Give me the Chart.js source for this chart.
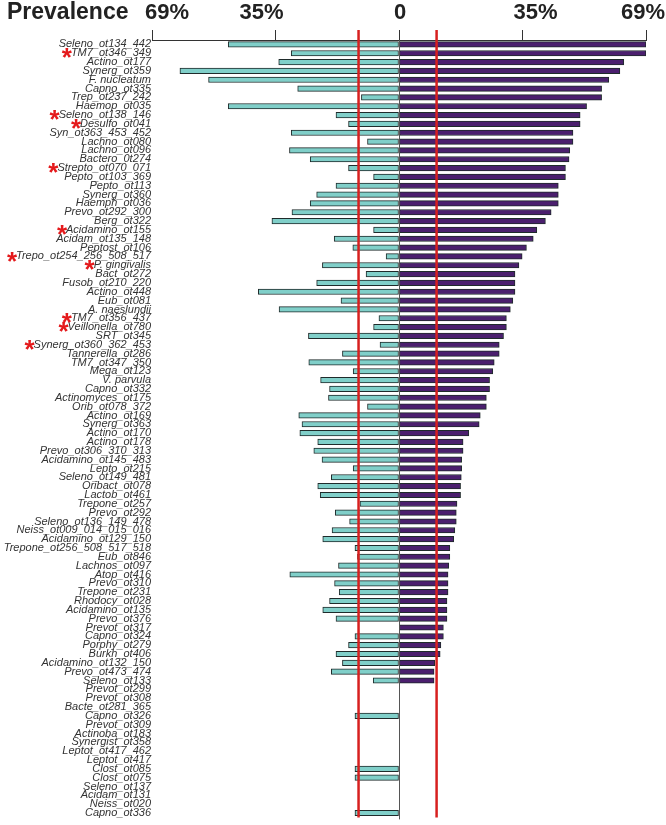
<!DOCTYPE html>
<html>
<head>
<meta charset="utf-8">
<script src="https://cdn.jsdelivr.net/npm/chart.js@4.4.1/dist/chart.umd.min.js"></script>
<style>
  html, body { margin: 0; padding: 0; background: #fff; }
  #wrap { position: relative; width: 666px; height: 825px; }
</style>
</head>
<body>
<div id="wrap"><canvas id="prevChart"></canvas></div>
<script>
/* prevalence mirror bars: teal to the left, purple to the right */
const categories = [
  "Seleno_ot134_442", "TM7_ot346_349", "Actino_ot177", "Synerg_ot359", "F. nucleatum",
  "Capno_ot335", "Trep_ot237_242", "Haemop_ot035", "Seleno_ot138_146", "Desulfo_ot041",
  "Syn_ot363_453_452", "Lachno_ot080", "Lachno_ot096", "Bactero_0t274", "Strepto_ot070_071",
  "Pepto_ot103_369", "Pepto_ot113", "Synerg_ot360", "Haemph_ot036", "Prevo_ot292_300",
  "Berg_ot322", "Acidamino_ot155", "Acidam_ot135_148", "Peptost_ot106", "Trepo_ot254_256_508_517",
  "P. gingivalis", "Bact_ot272", "Fusob_ot210_220", "Actino_ot448", "Eub_ot081",
  "A. naeslundii", "TM7_ot356_437", "Veillonella_ot780", "SRT_ot345", "Synerg_ot360_362_453",
  "Tannerella_ot286", "TM7_ot347_350", "Mega_ot123", "V. parvula", "Capno_ot332",
  "Actinomyces_ot175", "Orib_ot078_372", "Actino_ot169", "Synerg_ot363", "Actino_ot170",
  "Actino_ot178", "Prevo_ot306_310_313", "Acidamino_ot145_483", "Lepto_ot215", "Seleno_ot149_481",
  "Oribact_ot078", "Lactob_ot461", "Trepone_ot257", "Prevo_ot292", "Seleno_ot136_149_478",
  "Neiss_ot009_014_015_016", "Acidamino_ot129_150", "Trepone_ot256_508_517_518", "Eub_ot846", "Lachnos_ot097",
  "Atop_ot416", "Prevo_ot310", "Trepone_ot231", "Rhodocy_ot028", "Acidamino_ot135",
  "Prevo_ot376", "Prevot_ot317", "Capno_ot324", "Porphy_ot279", "Burkh_ot406",
  "Acidamino_ot132_150", "Prevo_ot473_474", "Seleno_ot133", "Prevot_ot299", "Prevot_ot308",
  "Bacte_ot281_365", "Capno_ot326", "Prevot_ot309", "Actinoba_ot183", "Synergist_ot358",
  "Leptot_ot417_462", "Leptot_ot417", "Clost_ot085", "Clost_ot075", "Seleno_ot137",
  "Acidam_ot131", "Neiss_ot020", "Capno_ot336",
];

// red asterisk in front of these names
const starred = [
  "TM7_ot346_349", "Seleno_ot138_146", "Desulfo_ot041", "Strepto_ot070_071", "Acidamino_ot155",
  "Trepo_ot254_256_508_517", "P. gingivalis", "TM7_ot356_437", "Veillonella_ot780", "Synerg_ot360_362_453",
];

// right side (purple), % prevalence
const rightPct = [
  69, 69, 62.8, 61.7, 58.6, 56.6, 56.6, 52.4, 50.6, 50.6,
  48.6, 48.6, 47.7, 47.5, 46.5, 46.5, 44.5, 44.5, 44.5, 42.5,
  40.9, 38.5, 37.5, 35.6, 34.4, 33.5, 32.4, 32.4, 32.4, 31.8,
  31.1, 30.0, 30.0, 29.2, 28.0, 28.0, 26.6, 26.2, 25.3, 25.3,
  24.4, 24.4, 22.7, 22.4, 19.5, 17.9, 17.9, 17.5, 17.5, 17.4,
  17.2, 17.2, 16.2, 16.0, 16.0, 15.6, 15.3, 14.2, 14.2, 13.9,
  13.7, 13.7, 13.7, 13.4, 13.4, 13.4, 12.4, 12.4, 11.7, 11.5,
  10.0, 9.8, 9.8, 0, 0, 0, 0, 0, 0, 0,
  0, 0, 0, 0, 0, 0, 0, 0,
];

// left side (teal), % prevalence (drawn to the left)
const leftPct = [
  47.7, 30.1, 33.6, 61.2, 53.2, 28.3, 10.5, 47.7, 17.6, 14.1,
  30.1, 8.8, 30.6, 24.8, 14.1, 7.1, 17.6, 23.0, 24.8, 29.9,
  35.5, 7.1, 18.1, 12.9, 3.6, 21.4, 9.2, 23.0, 39.3, 16.2,
  33.5, 5.6, 7.1, 25.3, 5.3, 15.8, 25.2, 12.8, 21.9, 19.4,
  19.7, 8.8, 28.0, 27.1, 27.7, 22.7, 23.8, 21.5, 12.8, 18.9,
  22.7, 22.0, 10.9, 17.8, 13.8, 18.7, 21.3, 12.3, 11.6, 16.9,
  30.5, 18.0, 16.7, 19.4, 21.3, 17.6, 0, 12.3, 14.1, 17.6,
  15.8, 18.9, 7.2, 0, 0, 0, 12.3, 0, 0, 0,
  0, 0, 12.3, 12.3, 0, 0, 0, 12.3,
];

const tickValues = [-69, -34.5, 0, 34.5, 69];
const cutoffs = [-11.3, 10.5];

// the top labels do not sit exactly over their ticks in the original
const labelShift = [15, -14, 1, 13, -3];

const TEAL = "#80cfc9";
const PURPLE = "#4b1f6e";
const EDGE = "#1f2b2b";
const FONT = "'Liberation Sans', Arial, sans-serif";

const fmtTick = (v) => (v === 0 ? "0" : Math.round(Math.abs(v)) + "%");

const overlay = {
  id: "overlay",
  afterDatasetsDraw(chart) {
    const { ctx, chartArea, scales } = chart;
    const x = scales.x;
    ctx.save();
    // zero line
    const x0 = Math.round(x.getPixelForValue(0)) + 0.5;
    ctx.strokeStyle = "#555";
    ctx.lineWidth = 1;
    ctx.beginPath();
    ctx.moveTo(x0, chartArea.top);
    ctx.lineTo(x0, chartArea.bottom + 2);
    ctx.stroke();
    // red cut-off lines
    ctx.strokeStyle = "#d7201f";
    ctx.lineWidth = 2.5;
    for (const c of cutoffs) {
      const xc = x.getPixelForValue(c);
      ctx.beginPath();
      ctx.moveTo(xc, chartArea.top - 10);
      ctx.lineTo(xc, chartArea.bottom);
      ctx.stroke();
    }
    ctx.restore();
  },
  afterDraw(chart) {
    const { ctx, scales } = chart;
    const x = scales.x;
    const y = scales.y;
    ctx.save();
    ctx.fillStyle = "#222";
    ctx.textBaseline = "middle";
    // title
    ctx.font = "bold 23px " + FONT;
    ctx.textAlign = "left";
    ctx.fillText("Prevalence", 7, 13);
    // top tick labels
    ctx.font = "bold 22px " + FONT;
    ctx.textAlign = "center";
    tickValues.forEach((v, i) => {
      ctx.fillText(fmtTick(v), x.getPixelForValue(v) + labelShift[i], 13);
    });
    // asterisks
    const right = y.right - y.options.ticks.padding;
    for (const name of starred) {
      const i = categories.indexOf(name);
      if (i < 0) continue;
      ctx.font = "italic 11px " + FONT;
      const w = ctx.measureText(name).width;
      const py = y.getPixelForValue(i);
      ctx.font = "bold 26px " + FONT;
      ctx.fillStyle = "#e41a1c";
      ctx.textAlign = "right";
      ctx.fillText("*", right - w + 1, py + 6);
    }
    ctx.restore();
  },
};

new Chart(document.getElementById("prevChart"), {
  type: "bar",
  data: {
    labels: categories,
    datasets: [
      {
        label: "left",
        data: leftPct.map((v) => (v ? -v : null)),
        backgroundColor: TEAL,
        borderColor: EDGE,
        borderWidth: 1,
        borderSkipped: false,
        barThickness: 5.5,
      },
      {
        label: "right",
        data: rightPct.map((v) => (v ? v : null)),
        backgroundColor: PURPLE,
        borderColor: EDGE,
        borderWidth: 1,
        borderSkipped: false,
        barThickness: 5.5,
      },
    ],
  },
  options: {
    indexAxis: "y",
    responsive: true,
    maintainAspectRatio: false,
    animation: false,
    layout: { padding: { left: 0, right: 20, top: 0, bottom: 4 } },
    plugins: { legend: { display: false }, tooltip: { enabled: false } },
    scales: {
      x: {
        position: "top",
        stacked: true,
        min: -69,
        max: 69,
        afterBuildTicks: (s) => { s.ticks = tickValues.map((v) => ({ value: v })); },
        afterFit: (s) => { s.height = 40; s.paddingLeft = 0; s.paddingRight = 0; },
        ticks: { display: false, autoSkip: false },
        grid: { drawOnChartArea: false, drawTicks: true, tickLength: 10, tickColor: "#333", tickWidth: 1 },
        border: { display: true, color: "#333", width: 1 },
      },
      y: {
        stacked: true,
        afterFit: (s) => { s.width = 152; },
        ticks: {
          autoSkip: false,
          padding: 1,
          color: "#333",
          font: { family: FONT, size: 11, style: "italic" },
        },
        grid: { display: false, drawTicks: false },
        border: { display: false },
      },
    },
  },
  plugins: [overlay],
});
</script>
</body>
</html>
